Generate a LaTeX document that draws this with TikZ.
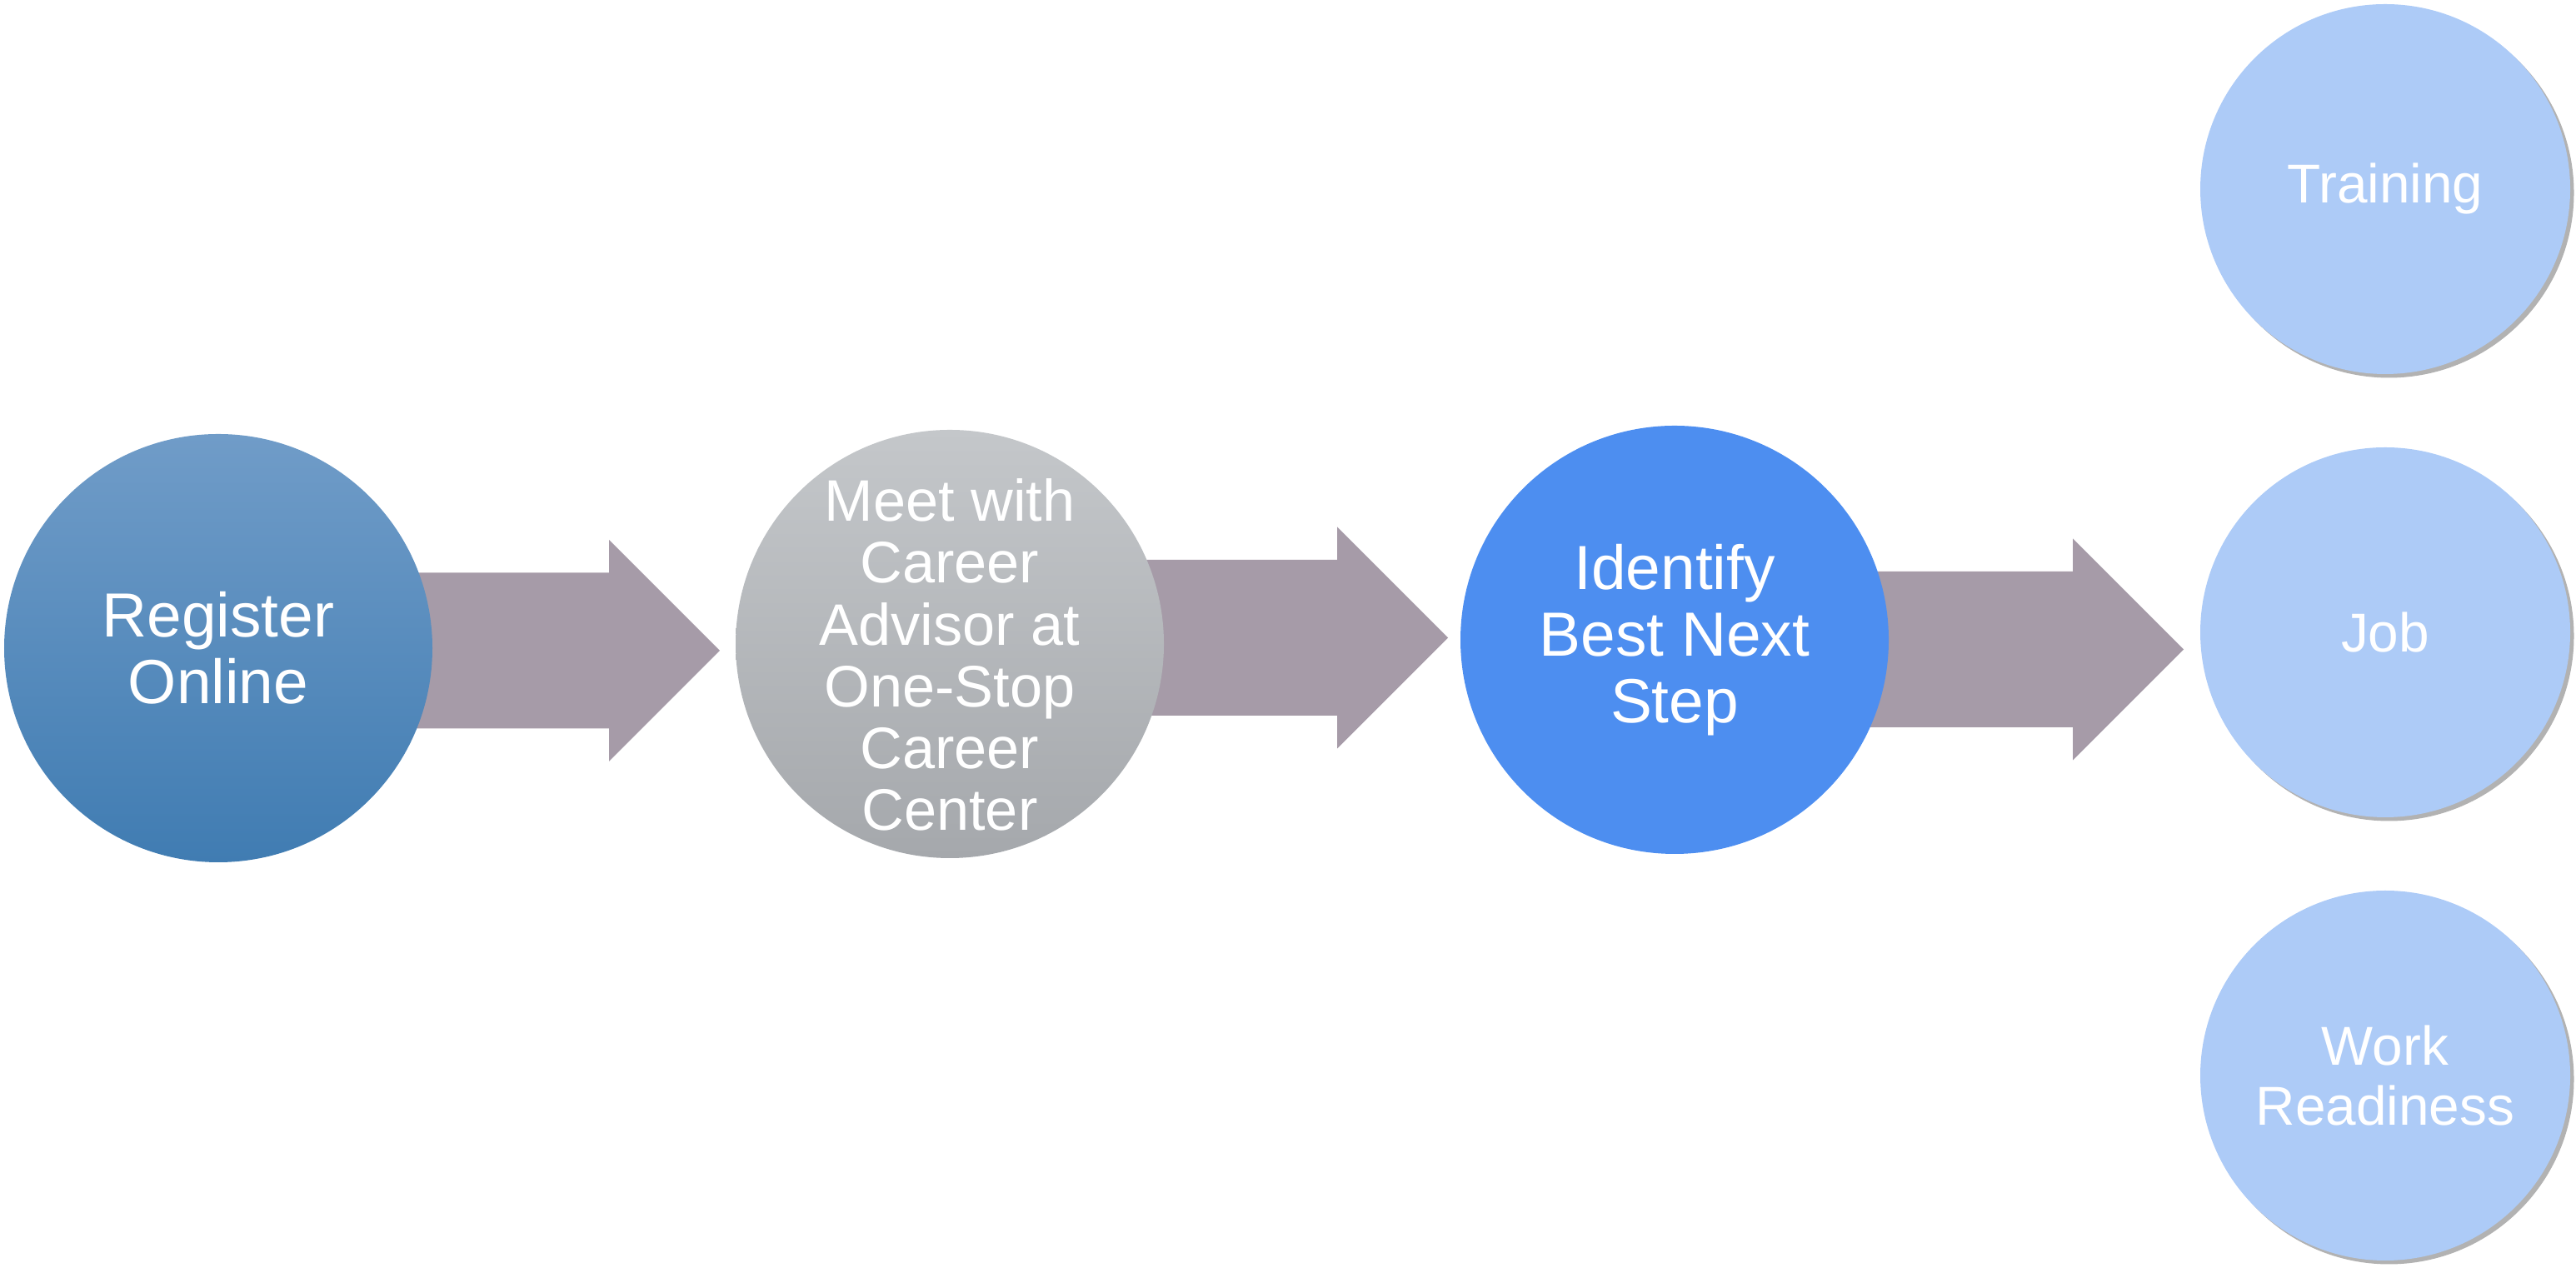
\documentclass[tikz,border=0pt]{standalone}
\usepackage{fontspec}
\setmainfont{Liberation Sans}
\usetikzlibrary{shadows,calc,backgrounds}
\definecolor{arrowc}{RGB}{166,155,168}
\definecolor{regtop}{RGB}{112,156,200}
\definecolor{regbot}{RGB}{64,124,178}
\definecolor{meettop}{RGB}{196,199,202}
\definecolor{meetbot}{RGB}{165,168,172}
\definecolor{identc}{RGB}{77,142,240}
\definecolor{outc}{RGB}{173,203,247}
\tikzset{
  bigcirc/.style={circle, minimum size=5.14cm, inner sep=0pt, text=white, align=center},
  smallcirc/.style={circle, minimum size=4.44cm, inner sep=0pt, fill=outc, text=white, align=center,
     font=\fontsize{18.7}{20.5}\selectfont,
     drop shadow={shadow xshift=0.045cm, shadow yshift=-0.045cm, fill=black!55, opacity=0.55}},
  blockarrow/.style={fill=arrowc, draw=none}
}
\begin{document}
\begin{tikzpicture}
\useasboundingbox (0,0) rectangle (30.92,15.22);
% circles
\node[bigcirc, top color=regtop, bottom color=regbot, font=\fontsize{21.3}{22.8}\selectfont] (c1) at (2.62,7.44) {Register\\Online};
\node[bigcirc, top color=meettop, bottom color=meetbot] (c2) at (11.40,7.49) {};
\node[text=white, align=center, font=\fontsize{20}{21.1}\selectfont] (c2t) at (11.40,7.36) {Meet with\\Career\\Advisor at\\One-Stop\\Career\\Center};
\node[bigcirc, fill=identc, font=\fontsize{21.3}{22.8}\selectfont] (c3) at (20.10,7.54) {Identify\\Best Next\\Step};
\node[smallcirc] (o1) at (28.63,12.95) {Training};
\node[smallcirc] (o2) at (28.63,7.63) {Job};
\node[smallcirc] (o3) at (28.63,2.31) {Work\\Readiness};
% arrows
\begin{scope}[on background layer]
\coordinate (a1tip) at (8.64,7.41);
\coordinate (a2tip) at (17.38,7.565);
\coordinate (a3tip) at (26.21,7.425);
\foreach \c/\t in {c1/a1tip, c2/a2tip, c3/a3tip}{
  \fill[blockarrow] ($(\c.center |- \t)+(0,0.935)$) -- ($(\t)+(-1.33,0.935)$) -- ($(\t)+(-1.33,1.33)$) -- (\t)
     -- ($(\t)+(-1.33,-1.33)$) -- ($(\t)+(-1.33,-0.935)$) -- ($(\c.center |- \t)+(0,-0.935)$) -- cycle;
}
\end{scope}
\end{tikzpicture}
\end{document}
